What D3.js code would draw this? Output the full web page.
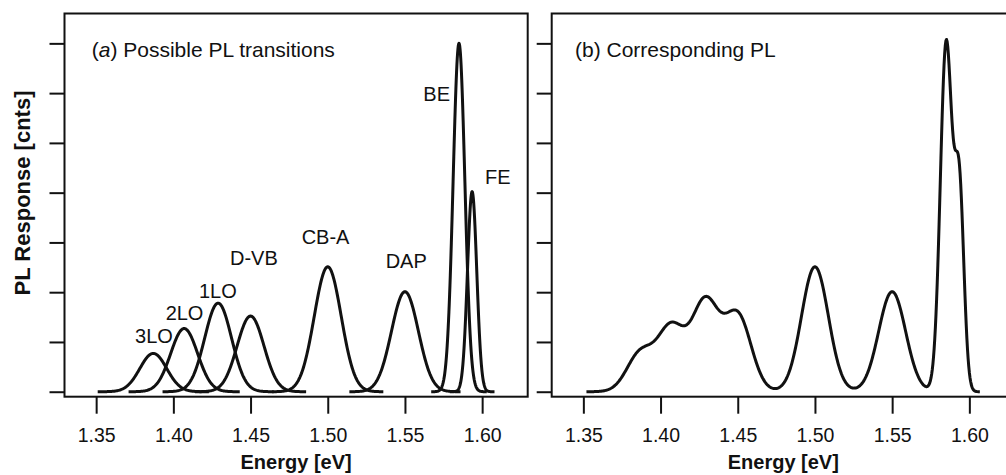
<!DOCTYPE html>
<html>
<head>
<meta charset="utf-8">
<script src="https://cdn.jsdelivr.net/npm/d3@7"></script>
<style>
  body { margin: 0; background: #fff; }
  text { font-family: "Liberation Sans", Arial, Helvetica, sans-serif; fill: #111; }
</style>
</head>
<body>
<svg id="chart" width="1006" height="475"></svg>
<script>
// Peak parameters
var peakLabels  = ['3LO', '2LO', '1LO', 'D-VB', 'CB-A', 'DAP', 'BE', 'FE'];
var peakCenters = [1.387, 1.407, 1.429, 1.450, 1.500, 1.550, 1.585, 1.5935];
var peakHeights = [0.77, 1.27, 1.78, 1.52, 2.51, 2.01, 7.0, 4.02];
var peakSigmas  = [0.0087, 0.0087, 0.0087, 0.0087, 0.0087, 0.0087, 0.0038, 0.003];
var peakSpans   = [0.036, 0.036, 0.036, 0.036, 0.036, 0.036, 0.018, 0.0145];

// where panel (b) spectrum starts / ends
var spectrumRange = [1.352, 1.607];

var xTicks = [1.35, 1.40, 1.45, 1.50, 1.55, 1.60];
var yTicks = [0, 1, 2, 3, 4, 5, 6, 7];

// label anchors (energy, counts) for the text next to each peak
var labelAt = [[1.3752, 0.97], [1.3950, 1.44], [1.4166, 1.89], [1.4367, 2.55],
               [1.4831, 2.97], [1.5375, 2.48], [1.5619, 5.85], [1.6018, 4.17]];

var svg = d3.select('#chart'),
    panelW = 463.2,
    plotTop = 13.5,
    plotBottom = 396.7,
    panels = [
        { left: 64.5, title: 'Possible PL transitions', tag: 'a', titleX: 91.7 },
        { left: 551.7, title: 'Corresponding PL', tag: 'b', titleX: 575 }
    ];

var y = d3.scaleLinear().domain([-0.1, 7.6]).range([plotBottom, plotTop]);

function gauss(i, e) {
    var d = e - peakCenters[i];
    return peakHeights[i] * Math.exp(-d * d / (2 * peakSigmas[i] * peakSigmas[i]));
}

panels.forEach(function(p, pi) {
    var x = d3.scaleLinear().domain([1.3295, 1.6295]).range([p.left, p.left + panelW]);
    var g = svg.append('g');

    var line = d3.line()
        .x(function(d) { return x(d[0]); })
        .y(function(d) { return y(d[1]); });

    if (pi === 0) {
        peakLabels.forEach(function(name, i) {
            var pts = d3.range(peakCenters[i] - peakSpans[i], peakCenters[i] + peakSpans[i] + 1e-9, peakSpans[i] / 80)
                .map(function(e) { return [e, gauss(i, e)]; });
            g.append('path')
                .attr('d', line(pts))
                .attr('fill', 'none')
                .attr('stroke', '#111')
                .attr('stroke-width', 3)
                .attr('stroke-linejoin', 'round');
            g.append('text')
                .attr('x', x(labelAt[i][0]))
                .attr('y', y(labelAt[i][1]))
                .attr('font-size', 20)
                .text(name);
        });
    } else {
        // summed spectrum
        var pts = d3.range(spectrumRange[0], spectrumRange[1] + 1e-9, 0.0004).map(function(e) {
            return [e, d3.sum(peakLabels, function(_, i) { return gauss(i, e); })];
        });
        g.append('path')
            .attr('d', line(pts))
            .attr('fill', 'none')
            .attr('stroke', '#111')
            .attr('stroke-width', 3)
            .attr('stroke-linejoin', 'round');
    }

    // frame
    g.append('rect')
        .attr('x', p.left)
        .attr('y', plotTop)
        .attr('width', panelW)
        .attr('height', plotBottom - plotTop)
        .attr('fill', 'none')
        .attr('stroke', '#111')
        .attr('stroke-width', 2);

    // axes
    g.append('g')
        .attr('transform', 'translate(0,' + plotBottom + ')')
        .call(d3.axisBottom(x).tickValues(xTicks).tickSize(17).tickPadding(14.5).tickFormat(d3.format('.2f')))
        .call(function(a) {
            a.select('.domain').remove();
            a.selectAll('line').attr('stroke', '#111').attr('stroke-width', 2);
            a.selectAll('text').attr('font-size', 19.5).style('font-family', null).attr('fill', '#111');
        });

    g.append('g')
        .attr('transform', 'translate(' + p.left + ',0)')
        .call(d3.axisLeft(y).tickValues(yTicks).tickSize(15).tickFormat(''))
        .call(function(a) {
            a.select('.domain').remove();
            a.selectAll('line').attr('stroke', '#111').attr('stroke-width', 2);
        });

    // panel title
    var t = g.append('text')
        .attr('x', p.titleX)
        .attr('y', 56.7)
        .attr('font-size', 21);
    t.append('tspan').text('(');
    t.append('tspan').attr('font-style', pi === 0 ? 'italic' : null).text(p.tag);
    t.append('tspan').text(') ' + p.title);

    // x axis title
    g.append('text')
        .attr('x', p.left + panelW / 2)
        .attr('y', 469)
        .attr('text-anchor', 'middle')
        .attr('font-size', 20)
        .attr('font-weight', 'bold')
        .text('Energy [eV]');
});

svg.append('text')
    .attr('transform', 'translate(30,193) rotate(-90)')
    .attr('text-anchor', 'middle')
    .attr('font-size', 22)
    .attr('font-weight', 'bold')
    .text('PL Response [cnts]');
</script>
</body>
</html>
